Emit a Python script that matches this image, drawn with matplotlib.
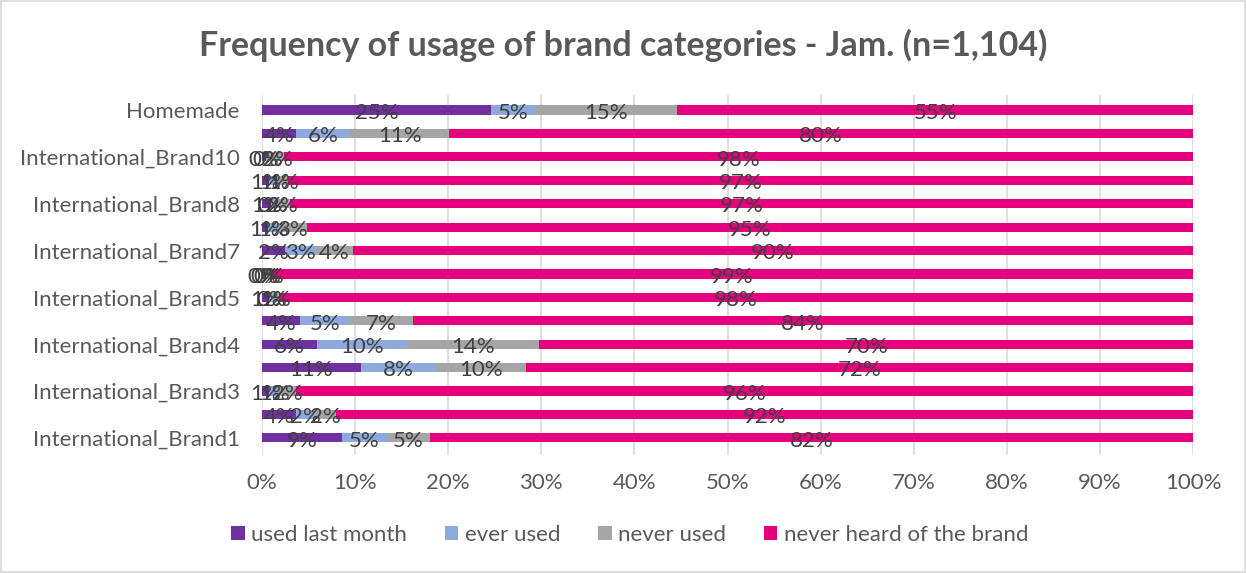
import matplotlib
matplotlib.use("Agg")
import matplotlib.pyplot as plt
from matplotlib.patches import Rectangle
from matplotlib.ticker import FuncFormatter
import numpy as np

plt.rcParams['font.family'] = ['Lato', 'DejaVu Sans']

# Categories from top to bottom
categories = [
    "Homemade", "Local_Brand2", "International_Brand10", "International_Brand9",
    "International_Brand8", "Local_Brand1", "International_Brand7", "International_Brand6",
    "International_Brand5", "Local_Brand3", "International_Brand4", "Local_Brand4",
    "International_Brand3", "International_Brand2", "International_Brand1",
]
used_last_month = [24.6, 3.6, 0.4, 0.8, 1.0, 0.6, 2.5, 0.2, 0.8, 4.1, 5.9, 10.6, 0.8, 3.6, 8.6]
ever_used       = [4.8, 5.9, 0.4, 1.0, 0.4, 1.2, 3.3, 0.3, 0.4, 5.3, 9.7, 8.0, 1.0, 2.1, 4.8]
never_used      = [15.2, 10.6, 1.6, 1.0, 1.6, 3.0, 4.0, 0.4, 0.6, 6.8, 14.2, 9.8, 1.8, 2.3, 4.6]
never_heard     = [55.4, 79.9, 97.6, 97.2, 97.0, 95.2, 90.2, 99.1, 98.2, 83.8, 70.2, 71.6, 96.4, 92.0, 82.0]
x_ticks = [0, 10, 20, 30, 40, 50, 60, 70, 80, 90, 100]

series = [
    ("used last month", used_last_month, "#7030A0"),
    ("ever used", ever_used, "#8EA9DB"),
    ("never used", never_used, "#A5A5A5"),
    ("never heard of the brand", never_heard, "#E6007E"),
]

fig = plt.figure(figsize=(12.47, 5.73), dpi=100)
ax = fig.add_axes([262 / 1247, 1 - 455 / 573, (1193 - 262) / 1247, (455 - 95) / 573])

ypos = np.arange(len(categories))
left = np.zeros(len(categories))
for name, vals, color in series:
    vals = np.array(vals)
    ax.barh(ypos, vals, left=left, height=0.39, color=color, label=name, zorder=2)
    for y, l, v in zip(ypos, left, vals):
        ax.text(l + v / 2, y + 0.12, f"{v:.0f}%", ha="center", va="center",
                fontsize=16, color="#404040", zorder=3)
    left = left + vals

ax.set_xlim(0, 100)
ax.set_ylim(14 + 0.73, -0.64)
ax.set_xticks(x_ticks)
ax.xaxis.set_major_formatter(FuncFormatter(lambda v, p: f"{v:.0f}%"))
ax.set_yticks(ypos)
ax.set_yticklabels([c if i % 2 == 0 else "" for i, c in enumerate(categories)])
ax.tick_params(axis="both", length=0, labelsize=16, colors="#595959")
ax.tick_params(axis="x", pad=13)
ax.tick_params(axis="y", pad=16)
ax.grid(axis="x", color="#D9D9D9", linewidth=1.2, zorder=0)
for s in ax.spines.values():
    s.set_visible(False)

fig.suptitle("Frequency of usage of brand categories - Jam. (n=1,104)",
             x=0.5, y=1 - 45 / 573, va="center", fontsize=24.5,
             fontweight="bold", color="#595959")

leg = ax.legend(loc="center", bbox_to_anchor=(630 / 1247, 1 - 535 / 573),
                bbox_transform=fig.transFigure, ncol=4,
                frameon=False, fontsize=16, labelcolor="#595959",
                handlelength=0.6, handleheight=0.6, handletextpad=0.3,
                columnspacing=1.7)

fig.patches.append(Rectangle((0.001, 0.002), 0.997, 0.996, transform=fig.transFigure,
                             fill=False, edgecolor="#D9D9D9", linewidth=1.2))

fig.savefig("out.png", dpi=100)
